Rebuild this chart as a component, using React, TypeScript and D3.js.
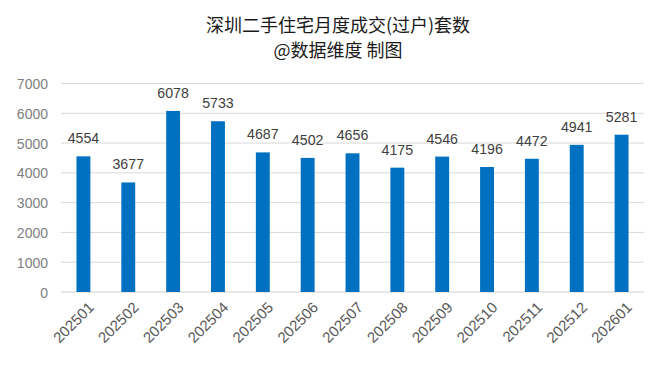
import React from "react";
import * as d3 from "d3";

const categories = ["202501","202502","202503","202504","202505","202506","202507","202508","202509","202510","202511","202512","202601"];
const values = [4554,3677,6078,5733,4687,4502,4656,4175,4546,4196,4472,4941,5281];
const yTicks = [0,1000,2000,3000,4000,5000,6000,7000];
const title = "深圳二手住宅月度成交(过户)套数";
const subtitle = "@数据维度 制图";

export default function App() {
  const W = 655, H = 365;
  const left = 61, right = 644, top = 83.5, bottom = 292;
  const x = d3.scaleBand<string>().domain(categories).range([left, right]).paddingInner(0.69).paddingOuter(0.345);
  const y = d3.scaleLinear().domain([0, 7000]).range([bottom, top]);
  const font = "'Liberation Sans', Arial, 'Noto Sans CJK SC', sans-serif";
  return (
    <svg width={W} height={H} style={{ position: "absolute", left: 0, top: 0, background: "#fff" }} fontFamily={font}>
      <text x={338} y={32} textAnchor="middle" fontSize={18} fill="#1a1a1a" fontFamily="'Noto Sans CJK SC', sans-serif">{title}</text>
      <text x={338} y={57} textAnchor="middle" fontSize={18} fill="#1a1a1a" fontFamily="'Noto Sans CJK SC', sans-serif">{subtitle}</text>
      {yTicks.map(t => (
        <g key={t}>
          <line x1={left} x2={right} y1={y(t)} y2={y(t)} stroke={t === 0 ? "#d0d0d0" : "#d9d9d9"} strokeWidth={1} />
          <text x={48} y={y(t) + 5.5} textAnchor="end" fontSize={14} fill="#808080">{t}</text>
        </g>
      ))}
      {categories.map((c, i) => {
        const bx = x(c)!;
        const bw = x.bandwidth();
        return (
          <g key={c}>
            <rect x={bx} y={y(values[i])} width={bw} height={bottom - y(values[i])} fill="#0070C0" />
            <text x={bx + bw / 2} y={y(values[i]) - 13} textAnchor="middle" fontSize={14.2} fill="#404040">{values[i]}</text>
            <text transform={`translate(${bx + bw / 2 + 4},${bottom + 9}) rotate(-45)`} textAnchor="end" dy="0.7em" fontSize={15} fill="#595959">{c}</text>
          </g>
        );
      })}
    </svg>
  );
}
